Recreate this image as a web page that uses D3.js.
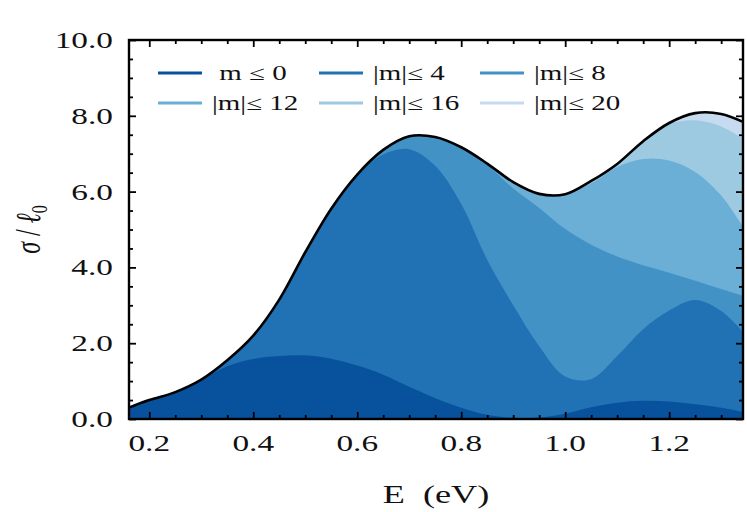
<!DOCTYPE html>
<html>
<head>
<meta charset="utf-8">
<script src="https://cdn.jsdelivr.net/npm/d3@7"></script>
<style>
  html, body { margin: 0; padding: 0; background: #fff; }
  svg { display: block; }
  text { font-family: "Liberation Serif", "DejaVu Serif", serif; fill: #111; white-space: pre; }
</style>
</head>
<body>
<svg id="chart" width="747" height="512"></svg>
<script>
// ---- data ----
const energy    = [0.161, 0.2, 0.25, 0.3, 0.35, 0.4, 0.45, 0.5, 0.55, 0.6, 0.65, 0.7, 0.75, 0.8, 0.85, 0.9, 0.95, 1.0, 1.05, 1.1, 1.15, 1.2, 1.25, 1.3, 1.342];
const sigmaTotal= [0.30, 0.50, 0.71, 1.04, 1.55, 2.20, 3.15, 4.40, 5.55, 6.45, 7.10, 7.46, 7.44, 7.17, 6.74, 6.25, 5.94, 5.93, 6.28, 6.73, 7.33, 7.81, 8.07, 8.05, 7.84];
const sigmaM0   = [0.30, 0.50, 0.71, 1.03, 1.39, 1.58, 1.66, 1.68, 1.59, 1.41, 1.17, 0.85, 0.55, 0.30, 0.11, 0.03, 0.04, 0.14, 0.31, 0.43, 0.48, 0.46, 0.39, 0.30, 0.19];
const sigmaM4   = [0.30, 0.50, 0.71, 1.04, 1.55, 2.20, 3.15, 4.40, 5.55, 6.45, 6.98, 7.12, 6.68, 5.67, 4.20, 3.00, 1.92, 1.12, 1.05, 1.66, 2.37, 2.86, 3.14, 2.85, 2.30];
const sigmaM8   = [0.30, 0.50, 0.71, 1.04, 1.55, 2.20, 3.15, 4.40, 5.55, 6.45, 7.10, 7.46, 7.44, 7.15, 6.70, 6.08, 5.57, 5.01, 4.60, 4.29, 4.06, 3.86, 3.65, 3.43, 3.25];
const sigmaM12  = [0.30, 0.50, 0.71, 1.04, 1.55, 2.20, 3.15, 4.40, 5.55, 6.45, 7.10, 7.46, 7.44, 7.17, 6.74, 6.25, 5.94, 5.93, 6.22, 6.65, 6.86, 6.82, 6.52, 5.90, 5.07];
const sigmaM16  = [0.30, 0.50, 0.71, 1.04, 1.55, 2.20, 3.15, 4.40, 5.55, 6.45, 7.10, 7.46, 7.44, 7.17, 6.74, 6.25, 5.94, 5.93, 6.28, 6.73, 7.33, 7.78, 7.88, 7.72, 7.40];
const sigmaM20  = sigmaTotal;
const seriesLabels = ["\u00a0m \u2264 0", "|m|\u2264 4", "|m|\u2264 8", "|m|\u2264 12", "|m|\u2264 16", "|m|\u2264 20"];
const seriesColors = ["#08519c", "#2171b5", "#4292c6", "#6baed6", "#9ecae1", "#c6dbef"];
const seriesValues = [sigmaM0, sigmaM4, sigmaM8, sigmaM12, sigmaM16, sigmaM20];
const xTicks = [0.2, 0.4, 0.6, 0.8, 1.0, 1.2];
const yTicks = [0, 2, 4, 6, 8, 10];
const xLabel = "E  (eV)";

// ---- layout ----
const L = 129, R = 743, T = 40, B = 419;
const SX = 1.45; // horizontal stretch of text in the reference
const x = d3.scaleLinear().domain([0.161, 1.342]).range([L, R]);
const y = d3.scaleLinear().domain([0, 10]).range([B, T]);
const curve = d3.curveCatmullRom.alpha(0.5);

const svg = d3.select("#chart");
svg.append("defs").append("clipPath").attr("id", "clip")
  .append("rect").attr("x", L).attr("y", T).attr("width", R - L).attr("height", B - T);

const plot = svg.append("g").attr("clip-path", "url(#clip)");
const area = d3.area().x((d, i) => x(energy[i])).y0(y(0)).y1(d => y(d)).curve(curve);
// draw from largest (lightest) to smallest (darkest)
for (let k = seriesValues.length - 1; k >= 0; k--) {
  plot.append("path").datum(seriesValues[k]).attr("d", area).attr("fill", seriesColors[k]);
}
const line = d3.line().x((d, i) => x(energy[i])).y(d => y(d)).curve(curve);
plot.append("path").datum(sigmaTotal).attr("d", line)
  .attr("fill", "none").attr("stroke", "#000").attr("stroke-width", 2.6);

// ---- ticks (inward on all four sides) ----
const xMinor = d3.range(0.2, 1.34, 0.05).filter(v => !xTicks.some(t => Math.abs(t - v) < 1e-6));
const yMinor = d3.range(0, 10.01, 0.5).filter(v => !yTicks.some(t => Math.abs(t - v) < 1e-6));
function styleAxis(g) {
  g.select(".domain").remove();
  g.selectAll("line").attr("stroke", "#000").attr("stroke-width", 1.8);
}
[[d3.axisBottom, "translate(0," + B + ")"], [d3.axisTop, "translate(0," + T + ")"]].forEach(([fn, tr]) => {
  svg.append("g").attr("transform", tr).call(fn(x).tickValues(xTicks).tickSize(-7).tickFormat("")).call(styleAxis);
  svg.append("g").attr("transform", tr).call(fn(x).tickValues(xMinor).tickSize(-4).tickFormat("")).call(styleAxis);
});
[[d3.axisLeft, "translate(" + L + ",0)"], [d3.axisRight, "translate(" + R + ",0)"]].forEach(([fn, tr]) => {
  svg.append("g").attr("transform", tr).call(fn(y).tickValues(yTicks).tickSize(-7).tickFormat("")).call(styleAxis);
  svg.append("g").attr("transform", tr).call(fn(y).tickValues(yMinor).tickSize(-4).tickFormat("")).call(styleAxis);
});

// frame
svg.append("rect").attr("x", L).attr("y", T).attr("width", R - L).attr("height", B - T)
  .attr("fill", "none").attr("stroke", "#000").attr("stroke-width", 2.4);

// ---- tick labels ----
const fmt = d3.format(".1f");
svg.append("g").selectAll("text").data(xTicks).join("text")
  .attr("transform", d => `translate(${x(d)},${B + 32}) scale(${SX},1)`)
  .attr("text-anchor", "middle").attr("font-size", 23).text(fmt);
svg.append("g").selectAll("text").data(yTicks).join("text")
  .attr("transform", d => `translate(${L - 16},${y(d) + 8}) scale(${SX},1)`)
  .attr("text-anchor", "end").attr("font-size", 23).text(fmt);

// ---- axis titles ----
svg.append("text").attr("transform", `translate(${(L + R) / 2},${B + 84}) scale(${SX},1)`)
  .attr("text-anchor", "middle").attr("font-size", 25).text(xLabel);
const yl = svg.append("text").attr("transform", `translate(40,${(T + B) / 2}) rotate(-90) scale(1,${SX})`)
  .attr("text-anchor", "middle").attr("font-size", 24);
yl.append("tspan").attr("font-style", "italic").text("\u03c3");
yl.append("tspan").text(" / ");
yl.append("tspan").attr("font-style", "italic").text("\u2113");
yl.append("tspan").attr("font-size", 16).attr("dy", 5).text("0");

// ---- legend ----
const legend = svg.append("g");
seriesLabels.forEach((lab, i) => {
  const col = i % 3, row = Math.floor(i / 3);
  const lx = 158 + col * 161, ly = 73 + row * 30;
  legend.append("line").attr("x1", lx).attr("x2", lx + 44).attr("y1", ly).attr("y2", ly)
    .attr("stroke", seriesColors[i]).attr("stroke-width", 3);
  legend.append("text").attr("transform", `translate(${lx + 54},${ly + 7}) scale(${SX},1)`)
    .attr("font-size", 20).text(lab);
});
</script>
</body>
</html>
